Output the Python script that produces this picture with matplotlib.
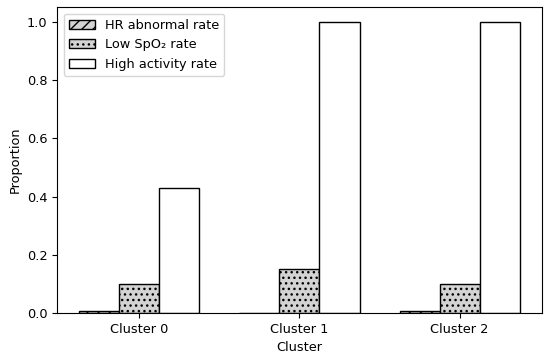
import matplotlib
matplotlib.use("Agg")
import matplotlib.pyplot as plt
import numpy as np

clusters = ["Cluster 0", "Cluster 1", "Cluster 2"]
hr_abnormal = [0.008, 0.0, 0.008]
low_spo2 = [0.10, 0.15, 0.10]
high_activity = [0.43, 1.0, 1.0]

plt.rcParams["font.size"] = 9.3

x = np.arange(len(clusters))
w = 0.25

fig, ax = plt.subplots(figsize=(5.5, 3.57), dpi=100)
ax.bar(x - w, hr_abnormal, w, color="lightgray", edgecolor="black", hatch="///", label="HR abnormal rate")
ax.bar(x, low_spo2, w, color="lightgray", edgecolor="black", hatch="...", label="Low SpO\u2082 rate")
ax.bar(x + w, high_activity, w, color="white", edgecolor="black", label="High activity rate")

ax.set_xticks(x)
ax.set_xticklabels(clusters)
ax.set_xlabel("Cluster")
ax.set_ylabel("Proportion")
ax.legend(loc="upper left")

fig.subplots_adjust(left=0.104, right=0.985, top=0.980, bottom=0.123)
plt.savefig("out.png")
